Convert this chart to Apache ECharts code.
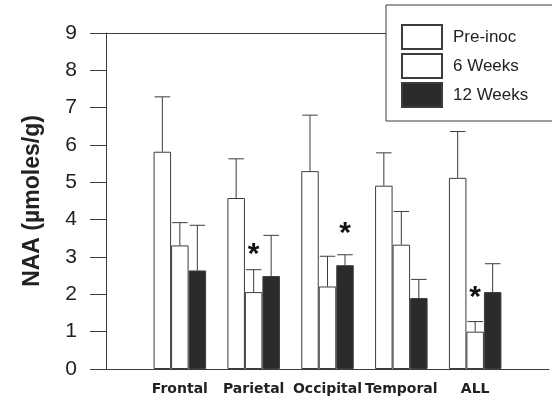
<!DOCTYPE html>
<html>
<head>
<meta charset="utf-8">
<script src="https://cdn.jsdelivr.net/npm/echarts@6/dist/echarts.min.js"></script>
<style>
  html, body { margin: 0; padding: 0; background: #fff; }
  #chart { width: 552px; height: 404px; }
</style>
</head>
<body>
<div id="chart"></div>
<script>
// 脑区（两端留空，让柱组落在 75px 的间距上）
const regions = ['', 'Frontal', 'Parietal', 'Occipital', 'Temporal', 'ALL', '']
const seriesNames = ['Pre-inoc', '6 Weeks', '12 Weeks']
// 平均值
const preInoc = [5.82, 4.58, 5.30, 4.91, 5.12]
const sixWeeks = [3.31, 2.06, 2.21, 3.33, 1.00]
const twelveWeeks = [2.64, 2.49, 2.78, 1.90, 2.06]
// 误差（只画上半部分）
const preInocSd = [1.47, 1.05, 1.50, 0.88, 1.24]
const sixWeeksSd = [0.61, 0.60, 0.81, 0.89, 0.27]
const twelveWeeksSd = [1.21, 1.09, 0.28, 0.50, 0.76]
// 星号：所在柱子（0/1/2）及高度
const starRegion = [2, 3, 5]
const starBar = [1, 2, 1]
const starLevel = [3.05, 3.62, 1.92]
const yTicks = [0, 1, 2, 3, 4, 5, 6, 7, 8, 9]

const BAR_W = 17.5
const LINE = '#3c3c3c'

const chart = echarts.init(document.getElementById('chart'))

// 两端补空位
const pad = arr => ['-'].concat(arr, ['-'])

function barSeries (name, values, fill) {
  return {
    name: name,
    type: 'bar',
    barWidth: BAR_W,
    barGap: '0%',
    data: pad(values),
    itemStyle: {
      color: fill,
      borderColor: LINE,
      borderWidth: 1
    },
    z: 2
  }
}

// 误差线：柱顶向上一根竖线加横帽
function errorSeries (values, sds, idx) {
  return {
    type: 'custom',
    silent: true,
    z: 3,
    encode: { x: 0, y: [1, 2] },
    data: values.map((v, k) => [k + 1, v, v + sds[k]]),
    renderItem (params, api) {
      const base = api.coord([api.value(0), api.value(1)])
      const top = api.coord([api.value(0), api.value(2)])
      const x = base[0] + (idx - 1) * BAR_W
      const half = BAR_W / 2 - 1
      const style = { stroke: LINE, lineWidth: 1 }
      return {
        type: 'group',
        children: [
          { type: 'line', shape: { x1: x, y1: base[1], x2: x, y2: top[1] }, style },
          { type: 'line', shape: { x1: x - half, y1: top[1], x2: x + half, y2: top[1] }, style }
        ]
      }
    }
  }
}

const starSeries = {
  type: 'custom',
  silent: true,
  z: 4,
  encode: { x: 0, y: 1 },
  data: starRegion.map((r, k) => [r, starLevel[k], starBar[k]]),
  renderItem (params, api) {
    const p = api.coord([api.value(0), api.value(1)])
    return {
      type: 'text',
      x: p[0] + (api.value(2) - 1) * BAR_W,
      y: p[1],
      style: {
        text: '*',
        font: 'bold 30px "Liberation Sans", Arial, sans-serif',
        fill: '#111',
        align: 'center',
        verticalAlign: 'middle'
      }
    }
  }
}

const option = {
  animation: false,
  backgroundColor: '#fff',
  grid: {
    left: 106,
    top: 33,
    bottom: 35,
    right: -4
  },
  legend: {
    data: seriesNames,
    icon: 'rect',
    orient: 'vertical',
    left: 386,
    top: 5,
    itemWidth: 40,
    itemHeight: 24,
    itemGap: 3,
    padding: [19, 30, 13, 15],
    backgroundColor: '#fff',
    borderColor: LINE,
    borderWidth: 1,
    selectedMode: false,
    textStyle: {
      fontFamily: '"Liberation Sans", Arial, sans-serif',
      fontSize: 17,
      color: '#222',
      padding: [0, 0, 0, 6]
    },
    z: 10
  },
  xAxis: [
    {
      type: 'category',
      data: regions,
      boundaryGap: false,
      axisLine: { lineStyle: { color: LINE, width: 1 } },
      axisTick: { show: false },
      axisLabel: {
        interval: 0,
        margin: 13,
        fontFamily: '"DejaVu Sans", sans-serif',
        fontWeight: 'bold',
        fontSize: 14,
        color: '#222'
      },
      splitLine: { show: false }
    },
    {
      // 顶部的框线
      type: 'category',
      position: 'top',
      data: regions,
      boundaryGap: false,
      axisLine: { lineStyle: { color: LINE, width: 1 } },
      axisTick: { show: false },
      axisLabel: { show: false },
      splitLine: { show: false }
    }
  ],
  yAxis: {
    type: 'value',
    min: yTicks[0],
    max: yTicks[yTicks.length - 1],
    interval: 1,
    name: 'NAA (µmoles/g)',
    nameLocation: 'middle',
    nameRotate: 90,
    nameGap: 62,
    nameTextStyle: {
      fontFamily: '"Liberation Sans", Arial, sans-serif',
      fontWeight: 'bold',
      fontSize: 23,
      color: '#222'
    },
    axisLine: { show: true, lineStyle: { color: LINE, width: 1 } },
    axisTick: { show: true, inside: false, length: 16, lineStyle: { color: LINE } },
    axisLabel: {
      margin: 29,
      fontFamily: '"Liberation Sans", Arial, sans-serif',
      fontSize: 21,
      color: '#222'
    },
    splitLine: { show: false }
  },
  series: [
    barSeries(seriesNames[0], preInoc, '#fff'),
    barSeries(seriesNames[1], sixWeeks, '#fff'),
    barSeries(seriesNames[2], twelveWeeks, '#2b2b2b'),
    errorSeries(preInoc, preInocSd, 0),
    errorSeries(sixWeeks, sixWeeksSd, 1),
    errorSeries(twelveWeeks, twelveWeeksSd, 2),
    starSeries
  ]
}

chart.setOption(option)
</script>
</body>
</html>
